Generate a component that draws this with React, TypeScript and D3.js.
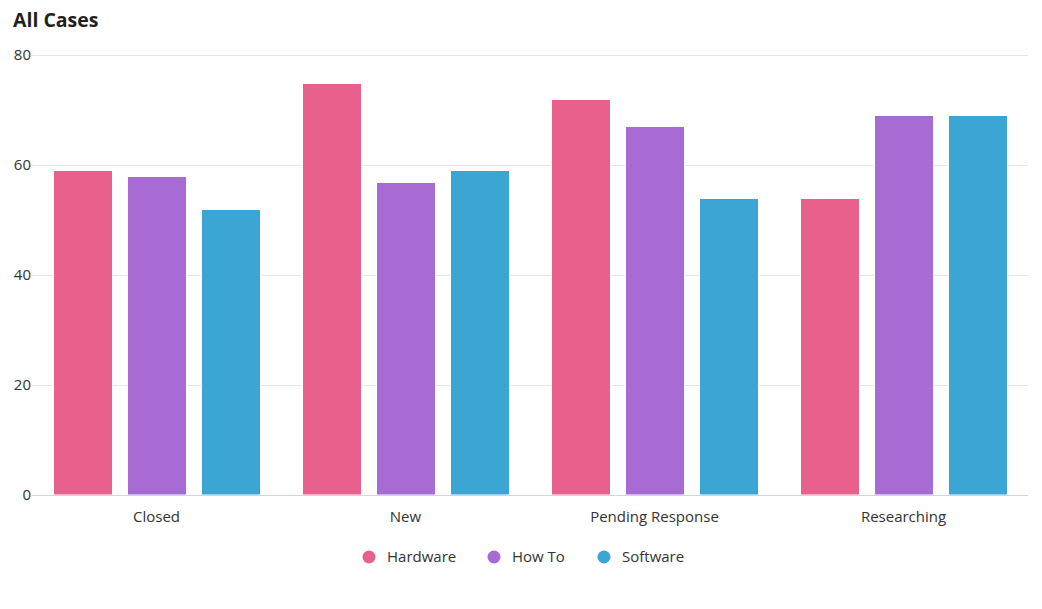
import React from "react";
import * as d3 from "d3";

const categories = ["Closed", "New", "Pending Response", "Researching"];
const seriesNames = ["Hardware", "How To", "Software"];
const hardware = [59, 75, 72, 54];
const howTo = [58, 57, 67, 69];
const software = [52, 59, 54, 69];
const yTicks = [0, 20, 40, 60, 80];
const colors = ["#e8608c", "#a86bd3", "#3ba5d4"];

const W = 1042;
const H = 609;
const FONT = "'Open Sans', sans-serif";

export default function App() {
  const series = [hardware, howTo, software];
  const x = d3.scaleBand<string>().domain(categories).range([32, 1028]).paddingInner(0).paddingOuter(0);
  const inner = d3.scaleBand<string>().domain(seriesNames).range([0, x.bandwidth()]).paddingInner(0.2027).paddingOuter(0.284);
  const y = d3.scaleLinear().domain([0, 80]).range([495, 55]);

  const legendX = [369, 494, 604];

  return (
    <svg width={W} height={H} style={{ position: "absolute", left: 0, top: 0, background: "#fff" }} fontFamily={FONT}>
      <text x={13} y={27} fontSize={19.5} fontWeight={700} fill="#1f1f1f">All Cases</text>
      {yTicks.map((t) => (
        <g key={t}>
          {t !== 0 && (
            <line x1={32} x2={1028} y1={y(t) + 0.5} y2={y(t) + 0.5} stroke="#e6e6e6" strokeWidth={1} />
          )}
          <text x={31} y={y(t) + 5} fontSize={15} textAnchor="end" fill="#333">{t}</text>
        </g>
      ))}
      {categories.map((c, ci) =>
        series.map((s, si) => {
          const bx = Math.round((x(c) as number) + (inner(seriesNames[si]) as number)) + 0.5;
          const by = Math.round(y(s[ci])) + 0.5;
          return (
            <rect
              key={c + si}
              x={bx}
              y={by}
              width={Math.round(inner.bandwidth())}
              height={y(0) - by}
              fill={colors[si]}
              stroke="#fff"
              strokeWidth={1}
            />
          );
        })
      )}
      <line x1={32} x2={1028} y1={y(0) + 0.5} y2={y(0) + 0.5} stroke="#ccd6eb" strokeWidth={1} />
      {categories.map((c) => (
        <text key={c} x={(x(c) as number) + x.bandwidth() / 2} y={522} fontSize={15} textAnchor="middle" fill="#333">
          {c}
        </text>
      ))}
      {seriesNames.map((n, i) => (
        <g key={n}>
          <circle cx={legendX[i]} cy={557} r={6.5} fill={colors[i]} />
          <text x={legendX[i] + 18} y={562} fontSize={15} fill="#333">{n}</text>
        </g>
      ))}
    </svg>
  );
}
